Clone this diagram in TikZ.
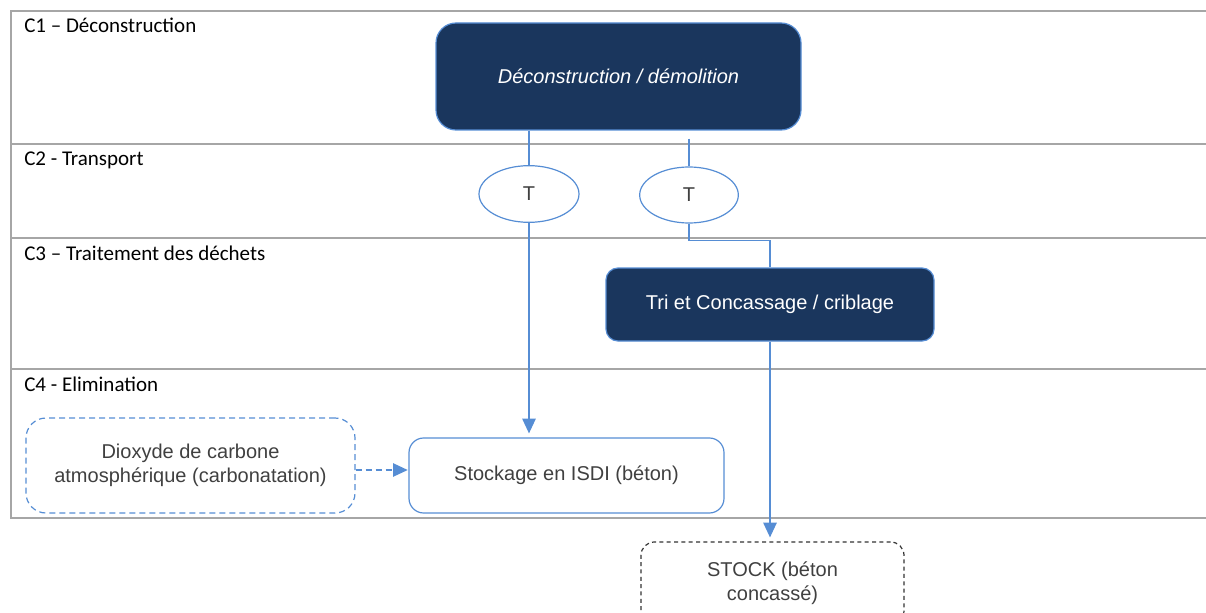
\documentclass[tikz,border=0pt]{standalone}
\usepackage{fontspec}
\setmainfont{Liberation Sans}
\newfontfamily\lanefont{Carlito}
\usetikzlibrary{shapes.geometric,arrows.meta}
\definecolor{navy}{RGB}{26,54,93}
\definecolor{flow}{RGB}{86,141,212}
\definecolor{lanegray}{RGB}{166,166,166}
\definecolor{boxtext}{RGB}{64,64,64}

\begin{document}
\begin{tikzpicture} [x=0.75pt, y=-0.75pt,
		lanebar/.style={draw=lanegray, line width=1.5pt},
		lanetext/.style={anchor=base west, inner sep=0pt, font=\lanefont\fontsize{15.75}{18}\selectfont},
		boxfont/.style={font=\fontsize{15}{18}\selectfont, align=center, inner sep=0pt},
		darkbox/.style={boxfont, draw=flow, fill=navy, text=white, line width=0.9pt},
		lightbox/.style={boxfont, draw=flow, text=boxtext, line width=0.9pt},
		link/.style={draw=flow, line width=1.1pt},
		flowarrow/.style={link, -{Triangle[length=11pt, width=10pt]}, shorten >=3pt}]

		\clip (0,0) rectangle (1206,613);

		\draw [lanebar] (1206,11) -- (11,11) -- (11,518) -- (1206,518);

		\foreach \y in {144,238,369}
			\draw [lanebar] (11,\y) -- (1206,\y);

		\node[lanetext] (c1) at (24,33) {C1 – Déconstruction};

		\node[lanetext] (c2) at (24,166) {C2 - Transport};

		\node[lanetext] (c3) at (24,260) {C3 – Traitement des déchets};

		\node[lanetext] (c4) at (24,391) {C4 - Elimination};

		\node[darkbox, rounded corners=15pt, minimum width=273.75pt, minimum height=80.25pt] (decon) at (618.5,76.5)%
		{\itshape Déconstruction / démolition};

		\node[lightbox, ellipse, minimum width=75pt, minimum height=42.5pt] (t1) at (529,194) {T};

		\node[lightbox, ellipse, minimum width=74pt, minimum height=42pt] (t2) at (689,195) {T};

		\node[darkbox, rounded corners=9pt, minimum width=246pt, minimum height=54.75pt] (tri) at (770,304.5)%
		{Tri et Concassage / criblage};

		\node[lightbox, rounded corners=11pt, minimum width=236.25pt, minimum height=56.25pt] (isdi) at (566.5,475.5)%
		{Stockage en ISDI (béton)};

		\node[lightbox, rounded corners=15pt, dash pattern=on 4.5pt off 3pt, minimum width=246.75pt, minimum height=71.25pt] (co2) at (190.5,465.5)%
		{Dioxyde de carbone\\ atmosphérique (carbonatation)};

		\node[boxfont, draw=black!80, text=boxtext, line width=0.9pt, rounded corners=10pt, dash pattern=on 3pt off 2.5pt,%
		minimum width=197.25pt, minimum height=61.5pt] (stock) at (772.5,583)%
		{STOCK (béton\\ concassé)};

		\draw [link] (decon.south -| t1.north) -- (t1.north);

		\draw [link] ([yshift=-6pt]decon.south -| t2.north) -- (t2.north);

		\draw [flowarrow] (t1.south) -- (t1.south |- isdi.north);

		\draw [link] (t2.south) -- ++(0,17) -| (tri.north);

		\draw [flowarrow] (tri.south) -- (tri.south |- stock.north);

		\draw [flowarrow, dash pattern=on 4.5pt off 3pt, shorten >=0.5pt] (co2.east |- 0,470) -- (isdi.west |- 0,470);
	\end{tikzpicture}
\end{document}
